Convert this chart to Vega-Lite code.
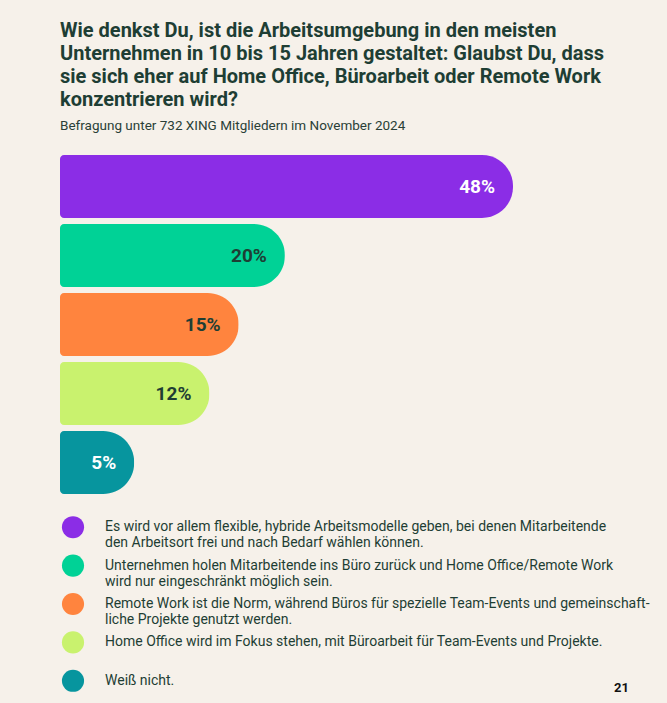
{
  "$schema": "https://vega.github.io/schema/vega-lite/v6.json",
  "background": "#f6f1ea",
  "padding": {"left": 60, "top": 20, "right": 5, "bottom": 6},
  "title": {
    "text": ["Wie denkst Du, ist die Arbeitsumgebung in den meisten", "Unternehmen in 10 bis 15 Jahren gestaltet: Glaubst Du, dass", "sie sich eher auf Home Office, Büroarbeit oder Remote Work", "konzentrieren wird?"],
    "subtitle": "Befragung unter 732 XING Mitgliedern im November 2024",
    "anchor": "start",
    "font": "Roboto",
    "fontSize": 20,
    "fontWeight": "bold",
    "color": "#1e3e34",
    "lineHeight": 23,
    "subtitleFont": "Roboto",
    "subtitleFontSize": 13.5,
    "subtitleColor": "#2a3f37",
    "subtitlePadding": 9,
    "offset": 20
  },
  "datasets": {
    "answers": [
      {"antwort": "Hybrid", "anteil": 0.48, "text": "Es wird vor allem flexible, hybride Arbeitsmodelle geben, bei denen Mitarbeitende\nden Arbeitsort frei und nach Bedarf wählen können."},
      {"antwort": "Büro", "anteil": 0.20, "text": "Unternehmen holen Mitarbeitende ins Büro zurück und Home Office/Remote Work\nwird nur eingeschränkt möglich sein."},
      {"antwort": "Remote", "anteil": 0.15, "text": "Remote Work ist die Norm, während Büros für spezielle Team-Events und gemeinschaft-\nliche Projekte genutzt werden."},
      {"antwort": "Home Office", "anteil": 0.12, "text": "Home Office wird im Fokus stehen, mit Büroarbeit für Team-Events und Projekte."},
      {"antwort": "Weiß nicht", "anteil": 0.05, "text": "Weiß nicht."}
    ]
  },
  "spacing": 11,
  "resolve": {"scale": {"x": "independent", "y": "independent"}},
  "vconcat": [
    {
      "width": 453,
      "height": 345,
      "data": {"name": "answers"},
      "encoding": {
        "y": {"field": "antwort", "type": "nominal", "sort": null, "axis": null, "scale": {"paddingInner": 0.087, "paddingOuter": 0.0435}},
        "x": {"field": "anteil", "type": "quantitative", "axis": null, "scale": {"type": "pow", "exponent": 0.8, "domain": [0, 0.48], "nice": false, "zero": true}}
      },
      "layer": [
        {
          "mark": {"type": "bar", "cornerRadiusTopRight": 31, "cornerRadiusBottomRight": 31, "cornerRadiusTopLeft": 4, "cornerRadiusBottomLeft": 4},
          "encoding": {
            "color": {"field": "antwort", "type": "nominal", "sort": null, "legend": null,
              "scale": {"domain": ["Hybrid", "Büro", "Remote", "Home Office", "Weiß nicht"], "range": ["#8b2de6", "#00d296", "#ff843e", "#c9f26e", "#07959e"]}}
          }
        },
        {
          "mark": {"type": "text", "align": "right", "baseline": "middle", "dx": -18, "font": "Roboto", "fontSize": 19, "fontWeight": "bold"},
          "encoding": {
            "text": {"field": "anteil", "type": "quantitative", "format": ".0%"},
            "color": {"condition": {"test": "datum.anteil == 0.48 || datum.anteil == 0.05", "value": "#ffffff"}, "value": "#1e3e34"}
          }
        }
      ]
    },
    {
      "width": 602,
      "height": 192,
      "data": {"name": "answers"},
      "title": {"text": "21", "orient": "bottom", "anchor": "end", "fontSize": 13, "fontWeight": "bold", "font": "Roboto", "color": "#111111", "offset": -18, "dx": -33},
      "encoding": {
        "y": {"field": "antwort", "type": "nominal", "sort": null, "axis": null, "scale": {"padding": 0.5}}
      },
      "layer": [
        {
          "mark": {"type": "circle", "size": 490, "opacity": 1, "x": 13},
          "encoding": {
            "color": {"field": "antwort", "type": "nominal", "sort": null, "legend": null}
          }
        },
        {
          "mark": {"type": "text", "align": "left", "baseline": "middle", "x": 45, "lineBreak": "\n", "font": "Roboto", "fontSize": 14, "lineHeight": 16, "color": "#1e3e34"},
          "encoding": {"text": {"field": "text"}}
        }
      ]
    }
  ],
  "config": {"view": {"stroke": null}}
}
